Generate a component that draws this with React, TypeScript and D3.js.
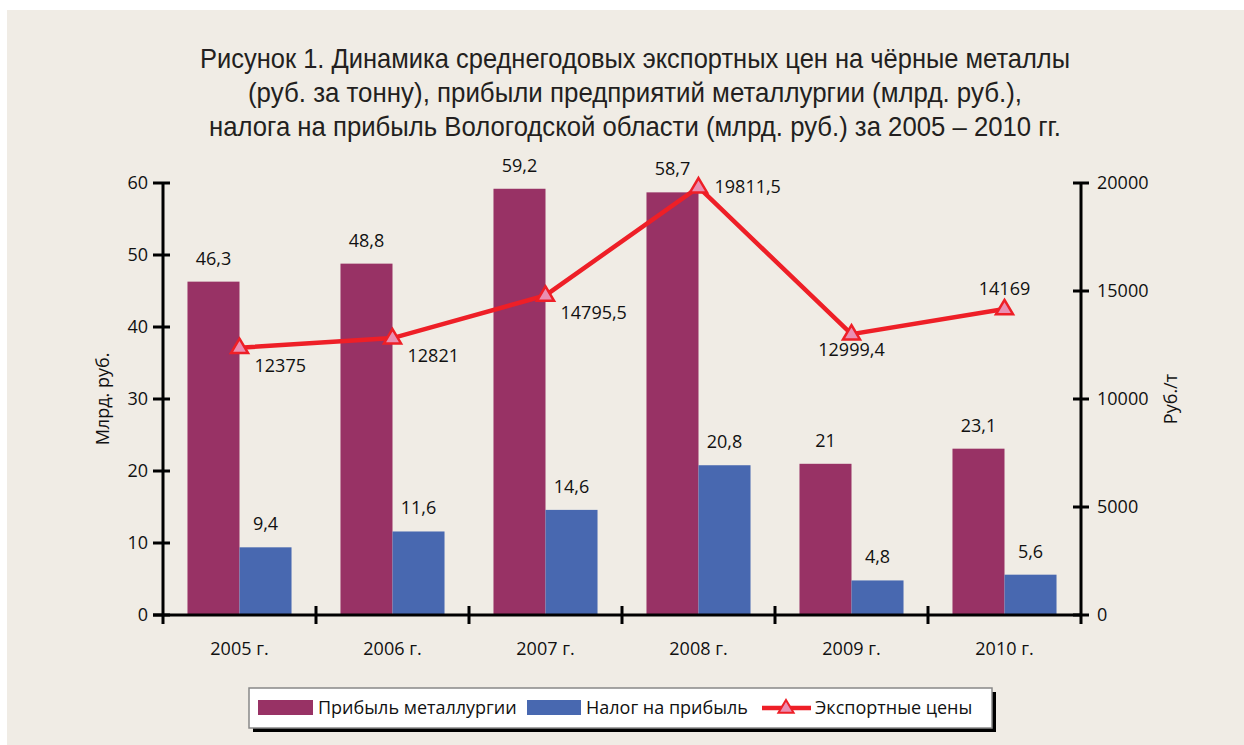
import React from "react";
import * as d3 from "d3";

const years = ["2005 г.", "2006 г.", "2007 г.", "2008 г.", "2009 г.", "2010 г."];
const profit = [46.3, 48.8, 59.2, 58.7, 21, 23.1];
const tax = [9.4, 11.6, 14.6, 20.8, 4.8, 5.6];
const prices = [12375, 12821, 14795.5, 19811.5, 12999.4, 14169];
const priceLabelPlacement = ["right-below", "right-below", "right-below", "right", "below", "above"];
const leftTicks = [0, 10, 20, 30, 40, 50, 60];
const rightTicks = [0, 5000, 10000, 15000, 20000];
const titleLines = [
  "Рисунок 1. Динамика среднегодовых экспортных цен на чёрные металлы",
  "(руб. за тонну), прибыли предприятий металлургии (млрд. руб.),",
  "налога на прибыль Вологодской области (млрд. руб.) за 2005 – 2010 гг.",
];
const titleWidths = [870, 774, 852];
const seriesNames = ["Прибыль металлургии", "Налог на прибыль", "Экспортные цены"];

const W = 1244;
const H = 745;
const BG = "#f0ece5";
const MAROON = "#983265";
const BLUE = "#4868b0";
const RED = "#ee1f27";
const PINK = "#ea8fb2";
const FONT = "'Open Sans', 'Noto Sans', sans-serif";
const TITLE_FONT = "'Liberation Sans', Arial, sans-serif";
const FS = 18;

const fmt = (v: number) => String(v).replace(".", ",");

export default function App() {
  const left = 163;
  const right = 1081;
  const top = 183;
  const bottom = 615;

  const x = d3.scaleBand<string>().domain(years).range([left, right]);
  const yL = d3.scaleLinear().domain([0, 60]).range([bottom, top]);
  const yR = d3.scaleLinear().domain([0, 20000]).range([bottom, top]);
  const bw = x.bandwidth() * 0.34;

  const cx = (i: number) => (x(years[i]) as number) + x.bandwidth() / 2;
  const line = d3
    .line<number>()
    .x((_, i) => cx(i))
    .y((d) => yR(d));

  const tri = (px: number, py: number, s: number) =>
    `M${px},${py - s} L${px + s * 0.95},${py + s * 0.6} L${px - s * 0.95},${py + s * 0.6} Z`;

  const boundaries = years.map((y) => x(y) as number).concat([right]);

  return (
    <svg width={W} height={H} style={{ position: "absolute", left: 0, top: 0 }}>
      <rect x={7} y={10} width={W - 7} height={H - 10} fill={BG} />
      {titleLines.map((t, i) => (
        <text
          key={i}
          x={635 - titleWidths[i] / 2}
          y={68 + i * 34}
          textLength={titleWidths[i]}
          lengthAdjust="spacingAndGlyphs"
          fontFamily={TITLE_FONT}
          fontSize={28}
          fill="#231f20"
        >
          {t}
        </text>
      ))}

      {/* bars */}
      {profit.map((v, i) => {
        const x0 = cx(i) - bw;
        return (
          <g key={"p" + i}>
            <rect x={x0} y={yL(v)} width={bw} height={bottom - yL(v)} fill={MAROON} />
            <text x={x0 + bw / 2} y={yL(v) - 17} textAnchor="middle" fontFamily={FONT} fontSize={FS} fill="#111">
              {fmt(v)}
            </text>
          </g>
        );
      })}
      {tax.map((v, i) => {
        const x0 = cx(i);
        return (
          <g key={"t" + i}>
            <rect x={x0} y={yL(v)} width={bw} height={bottom - yL(v)} fill={BLUE} />
            <text x={x0 + bw / 2} y={yL(v) - 17} textAnchor="middle" fontFamily={FONT} fontSize={FS} fill="#111">
              {fmt(v)}
            </text>
          </g>
        );
      })}

      {/* axes */}
      <line x1={left} x2={left} y1={top} y2={bottom + 9} stroke="#000" strokeWidth={3} />
      <line x1={right} x2={right} y1={top} y2={bottom + 9} stroke="#000" strokeWidth={3} />
      <line x1={left - 10} x2={right} y1={bottom} y2={bottom} stroke="#000" strokeWidth={3} />
      {leftTicks.map((t) => (
        <g key={"l" + t}>
          <line x1={left - 10} x2={left + 7} y1={yL(t)} y2={yL(t)} stroke="#000" strokeWidth={3} />
          <text x={left - 15} y={yL(t) + 6} textAnchor="end" fontFamily={FONT} fontSize={FS} fill="#111">
            {t}
          </text>
        </g>
      ))}
      {rightTicks.map((t) => (
        <g key={"r" + t}>
          <line x1={right - 8} x2={right + 8} y1={yR(t)} y2={yR(t)} stroke="#000" strokeWidth={3} />
          <text x={right + 16} y={yR(t) + 6} textAnchor="start" fontFamily={FONT} fontSize={FS} fill="#111">
            {t}
          </text>
        </g>
      ))}
      {boundaries.slice(1, -1).map((b, i) => (
        <line key={"b" + i} x1={b} x2={b} y1={bottom - 9} y2={bottom + 9} stroke="#000" strokeWidth={3} />
      ))}
      {years.map((y, i) => (
        <text key={y} x={cx(i)} y={655} textAnchor="middle" fontFamily={FONT} fontSize={FS} fill="#111">
          {y}
        </text>
      ))}
      <text
        transform={`translate(109,${(top + bottom) / 2}) rotate(-90)`}
        textAnchor="middle"
        fontFamily={FONT}
        fontSize={FS}
        fill="#111"
      >
        Млрд. руб.
      </text>
      <text
        transform={`translate(1177,${(top + bottom) / 2}) rotate(-90)`}
        textAnchor="middle"
        fontFamily={FONT}
        fontSize={FS}
        fill="#111"
      >
        Руб./т
      </text>

      {/* line */}
      <path d={line(prices) || ""} fill="none" stroke={RED} strokeWidth={4.5} strokeLinejoin="miter" />
      {prices.map((v, i) => (
        <path key={"m" + i} d={tri(cx(i), yR(v), 9)} fill={PINK} stroke={RED} strokeWidth={2.5} />
      ))}
      {prices.map((v, i) => {
        const p = priceLabelPlacement[i];
        let tx = cx(i);
        let ty = yR(v);
        let anchor: "start" | "middle" = "middle";
        if (p === "right-below") {
          tx += 15;
          ty += 24;
          anchor = "start";
        } else if (p === "right") {
          tx += 16;
          ty += 6;
          anchor = "start";
        } else if (p === "below") {
          ty += 22;
        } else if (p === "above") {
          ty -= 14;
        }
        return (
          <text key={"pl" + i} x={tx} y={ty} textAnchor={anchor} fontFamily={FONT} fontSize={FS} fill="#111">
            {fmt(v)}
          </text>
        );
      })}

      {/* legend */}
      <rect x={253} y={692} width={743} height={40} fill="#000" />
      <rect x={249} y={688} width={743} height={40} fill="#fff" stroke="#888" strokeWidth={1.5} />
      <rect x={258} y={700} width={55} height={15} fill={MAROON} />
      <text x={318} y={714} fontFamily={FONT} fontSize={FS} fill="#111">
        {seriesNames[0]}
      </text>
      <rect x={527} y={700} width={54} height={15} fill={BLUE} />
      <text x={586} y={714} fontFamily={FONT} fontSize={FS} fill="#111">
        {seriesNames[1]}
      </text>
      <line x1={762} x2={811} y1={708} y2={708} stroke={RED} strokeWidth={4.5} />
      <path d={tri(786, 708, 8)} fill={PINK} stroke={RED} strokeWidth={2} />
      <text x={815} y={714} fontFamily={FONT} fontSize={FS} fill="#111">
        {seriesNames[2]}
      </text>
    </svg>
  );
}
